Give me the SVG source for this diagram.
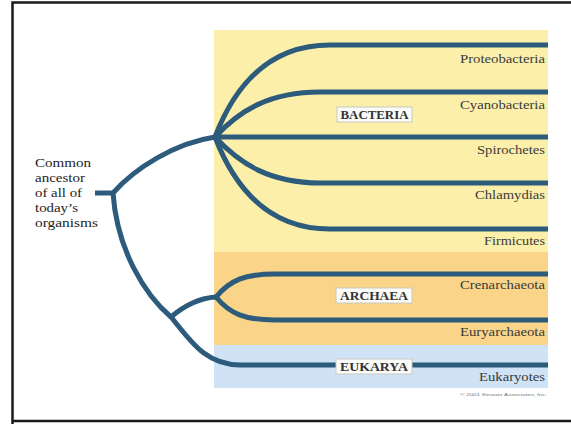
<svg xmlns="http://www.w3.org/2000/svg" width="571" height="424" viewBox="0 0 571 424">
<style>
.br{fill:none;stroke:#2d5b7c;stroke-width:5;stroke-linecap:butt}
.sp{font-family:"Liberation Serif",serif;font-size:13px;fill:#3a3a3a;text-anchor:end}
.anc{font-family:"Liberation Serif",serif;font-size:13px;fill:#222}
.box{fill:#fbfbf8;stroke:#c9c9c0;stroke-width:1}
.bl{font-family:"Liberation Serif",serif;font-size:12px;font-weight:bold;fill:#333;text-anchor:middle}
</style>
<rect x="0" y="0" width="571" height="424" fill="#ffffff"/>
<path d="M12.5,424 V2.5 H571 M12.5,421 H571" fill="none" stroke="#1a1a1a" stroke-width="2.5"/>
<g id="bands">
<rect x="214" y="30" width="334" height="222" fill="#fbefaa"/>
<rect x="214" y="252" width="334" height="93" fill="#f9d489"/>
<rect x="214" y="345" width="334" height="43" fill="#cfe2f6"/>
</g>
<g id="connectors">
<path class="br" d="M95,193 H113"/>
<path class="br" d="M113,193 C135,168 175,143 215,137"/>
<path class="br" d="M113,193 C117,250 145,295 171,317 C190,340 205,365 240,365 H548"/>
<path class="br" d="M215,137 C235,85 270,45 330,45 H548"/>
<path class="br" d="M215,137 C240,110 270,92 320,92 H548"/>
<path class="br" d="M215,137 H548"/>
<path class="br" d="M215,137 C240,164 270,183 320,183 H548"/>
<path class="br" d="M215,137 C235,189 270,229 330,229 H548"/>
<path class="br" d="M171,317 C185,305 200,298 216,297"/>
<path class="br" d="M216,297 C230,280 245,274 275,274 H548"/>
<path class="br" d="M216,297 C230,314 245,320 275,320 H548"/>
</g>
<g id="ancestor">
<text class="anc" x="35" y="167" textLength="56" lengthAdjust="spacingAndGlyphs">Common</text>
<text class="anc" x="35" y="182" textLength="50" lengthAdjust="spacingAndGlyphs">ancestor</text>
<text class="anc" x="35" y="197" textLength="47" lengthAdjust="spacingAndGlyphs">of all of</text>
<text class="anc" x="35" y="212" textLength="43" lengthAdjust="spacingAndGlyphs">today’s</text>
<text class="anc" x="35" y="227" textLength="63" lengthAdjust="spacingAndGlyphs">organisms</text>
</g>
<g id="bacteria">
<rect class="box" x="337" y="107" width="75" height="15"/>
<text class="bl" x="374.5" y="119" textLength="68" lengthAdjust="spacingAndGlyphs">BACTERIA</text>
</g>
<g id="archaea">
<rect class="box" x="336" y="288" width="76" height="15"/>
<text class="bl" x="374" y="300" textLength="68" lengthAdjust="spacingAndGlyphs">ARCHAEA</text>
</g>
<g id="eukarya">
<rect class="box" x="336" y="359" width="76" height="15"/>
<text class="bl" x="374" y="371" textLength="68" lengthAdjust="spacingAndGlyphs">EUKARYA</text>
</g>
<g id="proteobacteria"><text class="sp" x="545" y="63" textLength="85" lengthAdjust="spacingAndGlyphs">Proteobacteria</text></g>
<g id="cyanobacteria"><text class="sp" x="545" y="109" textLength="85" lengthAdjust="spacingAndGlyphs">Cyanobacteria</text></g>
<g id="spirochetes"><text class="sp" x="545" y="154" textLength="68" lengthAdjust="spacingAndGlyphs">Spirochetes</text></g>
<g id="chlamydias"><text class="sp" x="545" y="199" textLength="70" lengthAdjust="spacingAndGlyphs">Chlamydias</text></g>
<g id="firmicutes"><text class="sp" x="545" y="245" textLength="61" lengthAdjust="spacingAndGlyphs">Firmicutes</text></g>
<g id="crenarchaeota"><text class="sp" x="545" y="289" textLength="85" lengthAdjust="spacingAndGlyphs">Crenarchaeota</text></g>
<g id="euryarchaeota"><text class="sp" x="545" y="336" textLength="85" lengthAdjust="spacingAndGlyphs">Euryarchaeota</text></g>
<g id="eukaryotes"><text class="sp" x="545" y="381" textLength="66" lengthAdjust="spacingAndGlyphs">Eukaryotes</text></g>
<text x="547" y="396" font-family="Liberation Sans, sans-serif" font-size="4" fill="#777" text-anchor="end" textLength="87" lengthAdjust="spacingAndGlyphs">© 2001 Sinauer Associates, Inc.</text>
</svg>
